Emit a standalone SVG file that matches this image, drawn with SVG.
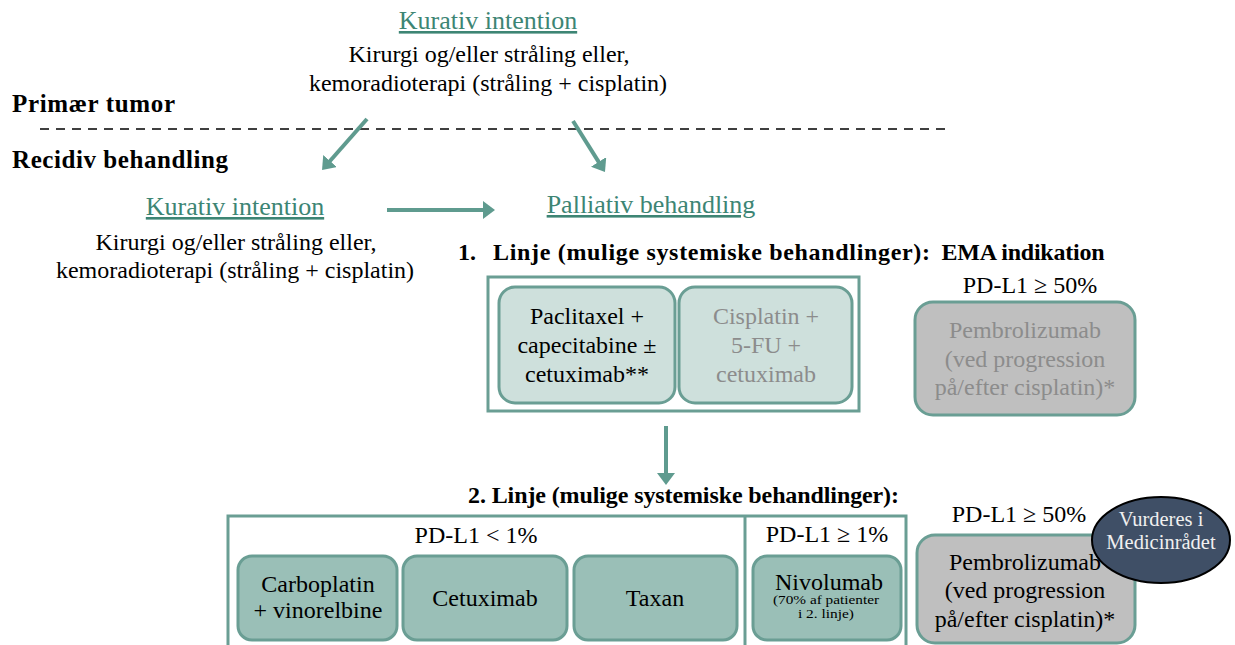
<svg xmlns="http://www.w3.org/2000/svg" width="1235" height="645" viewBox="0 0 1235 645">
<defs>
<style>
text{font-family:"Liberation Serif","Times New Roman",serif;font-size:24px;fill:#000}
.c{text-anchor:middle}
.b{font-weight:bold}
.b25{font-size:25px}
.teal{fill:#3d8574;font-size:26px;text-decoration:underline}
.gray{fill:#8c8c8c}
.frame{fill:#fff;stroke:#6a9e94;stroke-width:3}
.light{fill:#cee0dc;stroke:#6a9e94;stroke-width:3}
.mid{fill:#9abfb7;stroke:#6a9e94;stroke-width:3}
.grey{fill:#bfbfbf;stroke:#6a9e94;stroke-width:3}
.arrow{stroke:#5f9b8f;stroke-width:4;fill:none;marker-end:url(#ah)}
.small{font-size:11.5px}
.oval{font-size:20.5px;fill:#f0f0f0}
</style>
<marker id="ah" markerUnits="userSpaceOnUse" markerWidth="12" markerHeight="18" refX="3" refY="9" orient="auto" viewBox="0 0 12 18">
<path d="M0,0 L12,9 L0,18 z" fill="#5f9b8f"/>
</marker>
</defs>
<rect width="1235" height="645" fill="#fff"/>

<g id="labels">
<text class="b b25" x="12" y="112" textLength="163">Primær tumor</text>
<line x1="40" y1="129" x2="945" y2="129" stroke="#000" stroke-width="1.6" stroke-dasharray="9 7"/>
<text class="b b25" x="12" y="168" textLength="216">Recidiv behandling</text>
</g>

<g id="connectors">
<line class="arrow" x1="367" y1="119" x2="328" y2="163.3"/>
<line class="arrow" x1="573" y1="121" x2="600.2" y2="164.4"/>
<line class="arrow" x1="387" y1="210" x2="486" y2="210"/>
<line class="arrow" x1="666" y1="426" x2="666" y2="476"/>
</g>

<g id="primary-kurativ">
<text class="c teal" x="488" y="29">Kurativ intention</text>
<text class="c" x="489" y="62">Kirurgi og/eller stråling eller,</text>
<text class="c" x="488" y="91">kemoradioterapi (stråling + cisplatin)</text>
</g>

<g id="recidiv-kurativ">
<text class="c teal" x="235" y="215">Kurativ intention</text>
<text class="c" x="236" y="250">Kirurgi og/eller stråling eller,</text>
<text class="c" x="235" y="278">kemoradioterapi (stråling + cisplatin)</text>
</g>

<g id="palliativ">
<text class="c teal" x="651" y="213">Palliativ behandling</text>
</g>

<g id="line1">
<text class="b" y="260"><tspan x="458">1.</tspan><tspan x="493" textLength="437">Linje (mulige systemiske behandlinger):</tspan></text>
<rect class="frame" x="488" y="277" width="371" height="134"/>
</g>

<g id="paclitaxel">
<rect class="light" x="499" y="287" width="176" height="116" rx="16"/>
<text class="c" x="587" y="324">Paclitaxel +</text>
<text class="c" x="587" y="353">capecitabine ±</text>
<text class="c" x="587" y="382">cetuximab**</text>
</g>

<g id="cisplatin">
<rect class="light" x="679" y="287" width="173" height="116" rx="16"/>
<text class="c gray" x="766" y="324">Cisplatin +</text>
<text class="c gray" x="766" y="353">5-FU +</text>
<text class="c gray" x="766" y="382">cetuximab</text>
</g>

<g id="ema">
<text class="c b" x="1023" y="260" textLength="163">EMA indikation</text>
<text class="c" x="1030" y="293">PD-L1 ≥ 50%</text>
<rect class="grey" x="915" y="302" width="220" height="113" rx="18"/>
<text class="c gray" x="1025" y="338">Pembrolizumab</text>
<text class="c gray" x="1025" y="367">(ved progression</text>
<text class="c gray" x="1025" y="395">på/efter cisplatin)*</text>
</g>

<g id="line2">
<text class="b" x="468" y="503" textLength="431">2. Linje (mulige systemiske behandlinger):</text>
<rect class="frame" x="228" y="516" width="678" height="150"/>
<line x1="745" y1="516" x2="745" y2="666" stroke="#6a9e94" stroke-width="3"/>
<text class="c" x="476" y="543">PD-L1 &lt; 1%</text>
<text class="c" x="827" y="542">PD-L1 ≥ 1%</text>
</g>

<g id="carboplatin">
<rect class="mid" x="238" y="556" width="159" height="84" rx="14"/>
<text class="c" x="318" y="592">Carboplatin</text>
<text class="c" x="318" y="618">+ vinorelbine</text>
</g>

<g id="cetuximab">
<rect class="mid" x="403" y="556" width="164" height="84" rx="14"/>
<text class="c" x="485" y="606">Cetuximab</text>
</g>

<g id="taxan">
<rect class="mid" x="574" y="556" width="163" height="84" rx="14"/>
<text class="c" x="655" y="606">Taxan</text>
</g>

<g id="nivolumab">
<rect class="mid" x="753" y="556" width="148" height="84" rx="14"/>
<text class="c" x="829" y="590">Nivolumab</text>
<text class="c small" x="826" y="604" textLength="106" lengthAdjust="spacingAndGlyphs">(70% af patienter</text>
<text class="c small" x="826" y="618" textLength="56" lengthAdjust="spacingAndGlyphs">i 2. linje)</text>
</g>

<g id="pembrolizumab2">
<text class="c" x="1019" y="522">PD-L1 ≥ 50%</text>
<rect class="grey" x="917" y="535" width="218" height="108" rx="18"/>
<text class="c" x="1025" y="570">Pembrolizumab</text>
<text class="c" x="1025" y="598">(ved progression</text>
<text class="c" x="1025" y="627">på/efter cisplatin)*</text>
</g>

<g id="medicinraadet">
<ellipse cx="1161" cy="540" rx="69" ry="43" fill="#3f4f66" stroke="#000" stroke-width="2"/>
<text class="c oval" x="1161" y="526">Vurderes i</text>
<text class="c oval" x="1161" y="549">Medicinrådet</text>
</g>
</svg>
